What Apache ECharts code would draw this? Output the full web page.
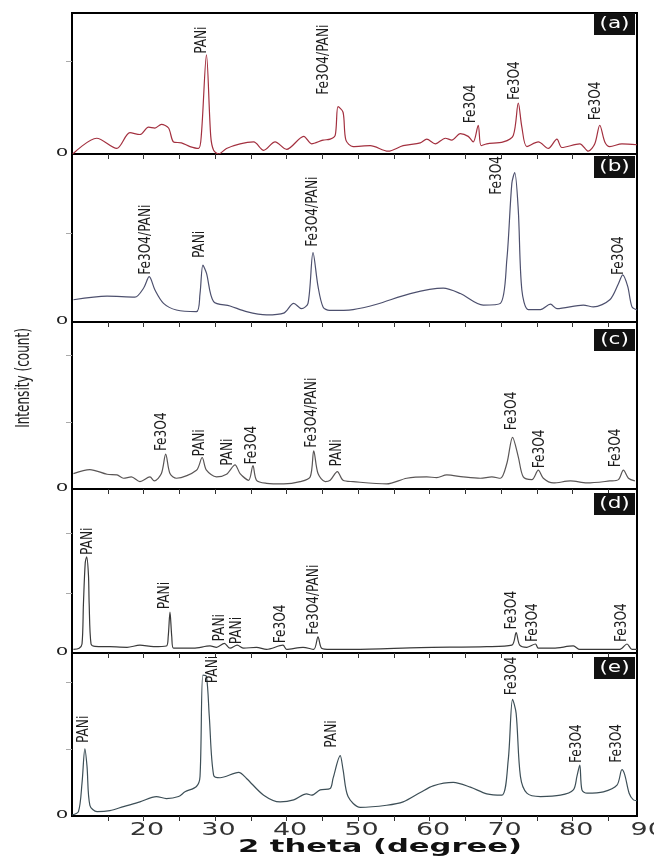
<!DOCTYPE html>
<html>
<head>
<meta charset="utf-8">
<script src="https://cdn.jsdelivr.net/npm/echarts@6/dist/echarts.min.js"></script>
<style>
  html, body { margin: 0; padding: 0; background: #fff; }
  #chart { width: 654px; height: 857px; }
</style>
</head>
<body>
<div id="chart"></div>
<script>
// ---- XRD patterns, 2θ (degree) vs intensity (arbitrary counts) ----
const thetaA  = [10.1,13.45,16.25,18.1,19.5,20.7,21.6,22.5,23.5,24.2,25.3,26.5,27.7,28.1,28.8,29.4,29.8,30.5,31.6,33.5,35.4,36.8,38.4,40.0,42.4,43.5,45.1,46.1,46.8,47.2,47.9,48.3,49.3,51.7,54.2,56.3,58.7,59.6,60.8,62.2,63.1,64.3,65.4,66.1,66.8,67.2,68.0,70.3,71.7,72.4,72.9,73.6,75.2,76.6,77.8,78.5,81.0,82.2,83.1,83.8,84.5,85.2,86.9,89.0];
const countsA = [0,17,6,23,21,29,28,32,28,13,12,8,6,22,107,19,4,0,6,11,13,4,13,5,19,11,15,16,20,51,45,15,8,9,3,9,12,16,11,17,15,22,19,13,31,9,11,13,20,55,29,8,13,6,16,7,11,3,11,31,13,8,11,10];

const thetaB  = [10.2,14.9,18.8,20.0,20.8,21.6,22.8,24.6,27.4,27.9,28.3,28.8,29.8,32.1,34.4,37.2,39.6,41.0,42.1,43.0,43.7,44.4,45.1,46.0,49.3,52.6,57.3,61.9,64.3,67.5,69.9,70.8,71.5,71.9,72.4,72.9,73.8,75.5,76.9,77.8,81.5,82.9,85.2,86.4,87.0,87.7,88.3,89.0];
const countsB = [25,29,28,38,51,36,21,13.5,11.6,32,64,55,23,18,11.6,8,10,21,15,21,78,40,17,13,14,20,32,38,32,19,21,70,156,168,126,36,14,14,20,15,19,17,25,43,53,40,17,13.5];

const thetaC  = [10.2,12.5,14.9,16.3,17.2,18.3,19.5,20.9,21.5,22.5,23.1,23.7,24.6,27.4,28.2,28.8,30.2,31.6,32.8,33.5,34.7,35.3,35.8,37.2,39.6,41.9,43.3,43.8,44.4,45.4,46.1,47.1,47.9,49.3,54.0,56.8,59.6,61.0,62.4,64.7,67.1,68.7,69.9,70.8,71.6,72.4,73.1,74.3,75.2,75.9,77.3,79.7,82.0,85.2,86.4,87.1,87.8,88.7];
const countsC = [23,29,22,21,16,18,11,18,12,23,52,23,16,28,47,28,18,22,36,23,13,35,13,8.5,7.5,11,18,57,23,11,13,26,13,11,7.5,16,18,17,21,18,16,18,16,38,77,48,18,14,28,16,9,12,9,12,14,28,16,12];

const thetaD  = [10.2,11.0,11.4,11.6,11.85,12.05,12.3,12.4,12.66,13.2,15.3,17.7,19.5,21.4,23.2,23.45,23.7,23.95,24.2,27.0,29.3,30.2,31.3,32.1,33.1,34.0,35.8,37.2,39.5,40.0,42.3,43.8,44.4,44.9,46.1,49.3,58.7,68.0,71.5,72.1,72.6,73.6,74.8,75.2,77.3,80.1,81.0,86.6,87.6,88.3,89.0];
const countsD = [6,8,15,82,150,160,130,82,15,11,10.5,9.5,13,10.5,11.7,27,68,27,8,8,11.7,9.5,16,8,13,8,9.5,6,13,6,9.5,6,27,8,6,6,9,10.5,13,34,13,9.5,15,8,8,11.7,6,6,15,6,6];

const thetaE  = [10.0,10.9,11.4,11.8,12.1,12.5,13.5,15.3,17.2,19.5,21.8,23.2,24.9,25.8,27.4,27.9,28.3,28.8,29.2,29.8,30.7,33.3,34.4,36.8,39.1,41.0,42.8,43.5,44.7,46.1,46.5,47.5,47.9,48.6,50.3,54.0,56.3,58.7,60.5,63.3,65.7,68.0,70.1,71.0,71.6,72.1,72.7,73.6,75.5,78.3,80.1,80.6,81.0,81.3,82.0,84.3,86.2,86.9,87.3,87.9,88.5,89.0];
const countsE = [1.5,6.5,49,100,74,16,6.5,8,14,21,29,26,29,36,44,59,210,208,148,61,57,65,56,31,21,24,33,31,39,41,56,90,69,29,13,16,21,35,45,50,43,33,31,84,174,153,59,34,29,31,39,59,76,39,34,36,46,69,61,34,24,23];

// Phase assignments: [2θ of the peak, phase]
const peaksA = [[28.8,'PANi'],[47.2,'Fe3O4/PANi'],[66.8,'Fe3O4'],[72.4,'Fe3O4'],[83.8,'Fe3O4']];
const peaksB = [[20.8,'Fe3O4/PANi'],[28.3,'PANi'],[43.7,'Fe3O4/PANi'],[71.9,'Fe3O4'],[87.0,'Fe3O4']];
const peaksC = [[23.1,'Fe3O4'],[28.2,'PANi'],[32.8,'PANi'],[35.3,'Fe3O4'],[43.8,'Fe3O4/PANi'],[47.1,'PANi'],[71.6,'Fe3O4'],[75.2,'Fe3O4'],[87.1,'Fe3O4']];
const peaksD = [[12.05,'PANi'],[23.7,'PANi'],[31.3,'PANi'],[33.1,'PANi'],[39.5,'Fe3O4'],[44.4,'Fe3O4/PANi'],[72.1,'Fe3O4'],[74.8,'Fe3O4'],[87.6,'Fe3O4']];
const peaksE = [[11.8,'PANi'],[28.3,'PANi'],[47.5,'PANi'],[71.6,'Fe3O4'],[81.0,'Fe3O4'],[86.9,'Fe3O4']];

const panelNames  = ['(a)','(b)','(c)','(d)','(e)'];
const xTickLabels = [20,30,40,50,60,70,80,90];

// ---- layout & style ----
const GRID_LEFT = 72, GRID_WIDTH = 565;
const panelTops    = [13, 154, 322, 489, 653];
const panelHeights = [141, 168, 167, 164, 163];
const yMax         = [152, 189, 249, 273, 243];
const lineColors   = ['#a3303f', '#4d506e', '#5a5656', '#3a3a3a', '#3d4f57'];
const nameBoxDy    = [0, 2, 7, 4, 4];
// pixel nudges of each peak caption relative to its peak apex
const nudges = [
  [[-4,-1],[-14,-12],[-7,-2],[-3,-3],[-4,-5]],
  [[-3,-2],[-3,-7],[0,-6],[-18,22],[-4,0]],
  [[-4,-3],[-2,-1],[-7,1],[-1,-1],[-2,-3],[0,-5],[0,-7],[2,-2],[-7,-3]],
  [[1,-2],[-5,-3],[-4,-2],[0,-1],[-2,-2],[-4,-2],[-4,-3],[-2,-2],[-5,-2]],
  [[-1,-6],[10,8],[-8,-8],[0,-4],[-3,-2],[-5,-7]]
];
const NARROW = '"Liberation Sans Narrow", "DejaVu Sans Condensed", "Arial Narrow", sans-serif';

const panels = [
  { theta: thetaA, counts: countsA, peaks: peaksA },
  { theta: thetaB, counts: countsB, peaks: peaksB },
  { theta: thetaC, counts: countsC, peaks: peaksC },
  { theta: thetaD, counts: countsD, peaks: peaksD },
  { theta: thetaE, counts: countsE, peaks: peaksE }
];

const xMinorTicks = [];
for (let v = 15; v <= 85; v += 5) xMinorTicks.push(v);

const grids = [], xAxes = [], yAxes = [], series = [];
panels.forEach((p, i) => {
  grids.push({
    left: GRID_LEFT, width: GRID_WIDTH, top: panelTops[i], height: panelHeights[i],
    show: true, borderColor: '#000', borderWidth: 2, backgroundColor: '#fff'
  });
  xAxes.push({
    type: 'value', gridIndex: i, min: 10, max: 89, interval: 5,
    axisLine: { show: true, onZero: false, lineStyle: { color: '#000', width: 2 } },
    axisTick: { show: true, inside: false, length: 5, customValues: xMinorTicks,
                lineStyle: { color: '#333', width: 1 } },
    axisLabel: { show: false },
    splitLine: { show: false }
  });
  yAxes.push({
    type: 'value', gridIndex: i, min: 0, max: yMax[i], interval: 100,
    axisLine: { show: true, lineStyle: { color: '#000', width: 2 } },
    axisTick: { show: true, length: 6, customValues: [100, 200].filter(v => v < yMax[i]),
                lineStyle: { color: '#aaa', width: 1 } },
    axisLabel: { show: false },
    splitLine: { show: false }
  });
  series.push({
    type: 'line', xAxisIndex: i, yAxisIndex: i,
    data: p.theta.map((t, k) => [t, p.counts[k]]),
    showSymbol: false, smooth: 0.3,
    lineStyle: { color: lineColors[i], width: 1.2 },
    silent: true, z: 3
  });
});

const chart = echarts.init(document.getElementById('chart'));
chart.setOption({
  animation: false,
  backgroundColor: '#fff',
  grid: grids, xAxis: xAxes, yAxis: yAxes, series: series
});

function peakHeight(p, at) {
  let best = -Infinity;
  p.theta.forEach((t, k) => { if (Math.abs(t - at) <= 0.6 && p.counts[k] > best) best = p.counts[k]; });
  return best;
}

const gfx = [];
panels.forEach((p, i) => {
  // peak captions, reading upward from above each peak
  p.peaks.forEach((pk, j) => {
    const pt = chart.convertToPixel({ gridIndex: i }, [pk[0], peakHeight(p, pk[0])]);
    const n = nudges[i][j];
    gfx.push({
      type: 'text', x: pt[0] + n[0], y: pt[1] + n[1], rotation: Math.PI / 2, scaleX: 0.9, z: 20,
      style: { text: pk[1], fill: '#1c1c1c', font: '15px ' + NARROW,
               align: 'left', verticalAlign: 'middle', textAlign: 'left', textVerticalAlign: 'middle' }
    });
  });
  // zero mark at each baseline
  const zero = chart.convertToPixel({ gridIndex: i }, [10, 0]);
  gfx.push({
    type: 'text', x: zero[0] - 10, y: zero[1] - 1, scaleX: 1.8, z: 20,
    style: { text: '0', fill: '#222', font: '11px "DejaVu Sans", sans-serif',
             align: 'center', verticalAlign: 'middle', textAlign: 'center', textVerticalAlign: 'middle' }
  });
  // panel tag
  const bx = GRID_LEFT + GRID_WIDTH - 43, by = panelTops[i] + nameBoxDy[i];
  gfx.push({ type: 'rect', shape: { x: bx, y: by, width: 41, height: 22 }, style: { fill: '#111' }, z: 20 });
  gfx.push({
    type: 'text', x: bx + 20.5, y: by + 11, scaleX: 1.35, z: 21,
    style: { text: panelNames[i], fill: '#fff', font: '16px "DejaVu Sans", sans-serif',
             align: 'center', verticalAlign: 'middle', textAlign: 'center', textVerticalAlign: 'middle' }
  });
});

// bottom tick labels
xTickLabels.forEach(v => {
  const px = chart.convertToPixel({ xAxisIndex: 4 }, v);
  gfx.push({
    type: 'text', x: px + 3.5, y: 830, scaleX: 1.5, z: 20,
    style: { text: String(v), fill: '#333', font: '18px "DejaVu Sans", sans-serif',
             align: 'center', verticalAlign: 'middle', textAlign: 'center', textVerticalAlign: 'middle' }
  });
});

// axis titles
gfx.push({
  type: 'text', x: 380, y: 847, scaleX: 1.7, z: 20,
  style: { text: '2 theta (degree)', fill: '#111', font: 'bold 18px "DejaVu Sans", sans-serif',
           align: 'center', verticalAlign: 'middle', textAlign: 'center', textVerticalAlign: 'middle' }
});
gfx.push({
  type: 'text', x: 24, y: 378, rotation: Math.PI / 2, scaleX: 0.67, z: 20,
  style: { text: 'Intensity (count)', fill: '#222', font: '20px ' + NARROW,
           align: 'center', verticalAlign: 'middle', textAlign: 'center', textVerticalAlign: 'middle' }
});

chart.setOption({ graphic: { elements: gfx } });
</script>
</body>
</html>
